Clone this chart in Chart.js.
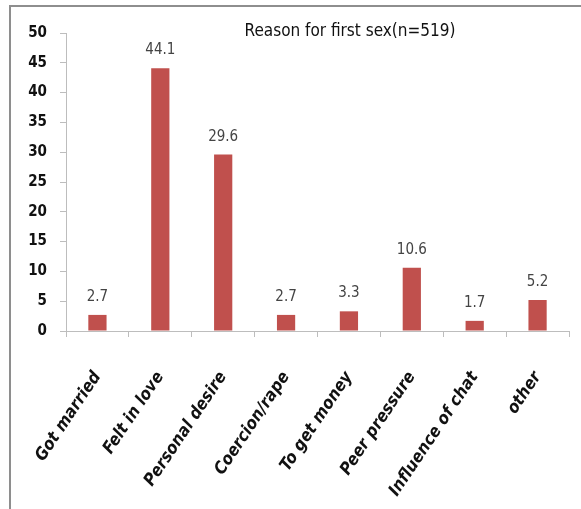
<!DOCTYPE html>
<html>
<head>
<meta charset="utf-8">
<script src="https://cdn.jsdelivr.net/npm/chart.js@4.4.1/dist/chart.umd.min.js"></script>
<style>
  body { margin: 0; background: #fff; }
  #frame {
    position: absolute; left: 9px; top: 5px; width: 572px; height: 504px;
    border-top: 2px solid #8e8e8e; border-left: 2px solid #8e8e8e;
  }
  #target { position: absolute; left: 0; top: 0; }
</style>
</head>
<body>
<div id="frame"></div>
<canvas id="target" width="581" height="509"></canvas>
<script>
var reasons = ["Got married", "Felt in love", "Personal desire", "Coercion/rape",
               "To get money", "Peer pressure", "Influence of chat", "other"];
var percents = [2.7, 44.1, 29.6, 2.7, 3.3, 10.6, 1.7, 5.2];
var yTicks = [0, 5, 10, 15, 20, 25, 30, 35, 40, 45, 50];

var chartTitle = "Reason for first sex(n=519)";
var barColor = "#c0504d";
var axisColor = "#bdbdbd";

// value labels above each bar
var valueLabels = {
  id: 'valueLabels',
  afterDatasetsDraw: function(chart) {
    var ctx = chart.ctx;
    var meta = chart.getDatasetMeta(0);
    ctx.save();
    ctx.font = "15px 'Liberation Sans Narrow', 'DejaVu Sans Condensed', sans-serif";
    ctx.fillStyle = "#444";
    ctx.textAlign = "center";
    ctx.textBaseline = "alphabetic";
    meta.data.forEach(function(bar, i) {
      ctx.fillText(percents[i].toFixed(1), bar.x, bar.y - 14);
    });
    ctx.restore();
  }
};

// title sits inside the plot area, not above it
var innerTitle = {
  id: 'innerTitle',
  afterDraw: function(chart) {
    var ctx = chart.ctx;
    ctx.save();
    ctx.font = "17px 'Liberation Sans Narrow', 'DejaVu Sans Condensed', sans-serif";
    ctx.fillStyle = "#111";
    ctx.textAlign = "center";
    ctx.textBaseline = "middle";
    ctx.fillText(chartTitle, 350, 32);
    ctx.restore();
  }
};

var chart = new Chart(document.getElementById("target"), {
  type: 'bar',
  data: {
    labels: reasons,
    datasets: [{
      data: percents,
      backgroundColor: barColor,
      borderWidth: 0,
      categoryPercentage: 1,
      barPercentage: 0.29
    }]
  },
  options: {
    responsive: false,
    animation: false,
    layout: { padding: { left: 10, right: 12, top: 33, bottom: 0 } },
    plugins: {
      legend: { display: false },
      tooltip: { enabled: false }
    },
    scales: {
      x: {
        grid: { drawOnChartArea: false, color: axisColor, tickLength: 6, offset: true },
        border: { color: axisColor },
        ticks: {
          color: "#111",
          maxRotation: 56,
          minRotation: 56,
          padding: 31,
          font: { family: "'DejaVu Sans Condensed', sans-serif", size: 17, weight: 'bold', style: 'italic' }
        },
        afterFit: function(scale) {
          scale.height = 178;
          scale.paddingLeft = 0;
          scale.paddingRight = 0;
        }
      },
      y: {
        min: 0,
        max: 50,
        afterBuildTicks: function(scale) {
          scale.ticks = yTicks.map(function(v) { return { value: v }; });
        },
        grid: { drawOnChartArea: false, color: axisColor, tickLength: 6 },
        border: { color: axisColor },
        ticks: {
          color: "#111",
          padding: 13,
          font: { family: "'DejaVu Sans Condensed', sans-serif", size: 15, weight: 'bold' }
        },
        afterFit: function(scale) { scale.width = 56; }
      }
    }
  },
  plugins: [valueLabels, innerTitle]
});
</script>
</body>
</html>
